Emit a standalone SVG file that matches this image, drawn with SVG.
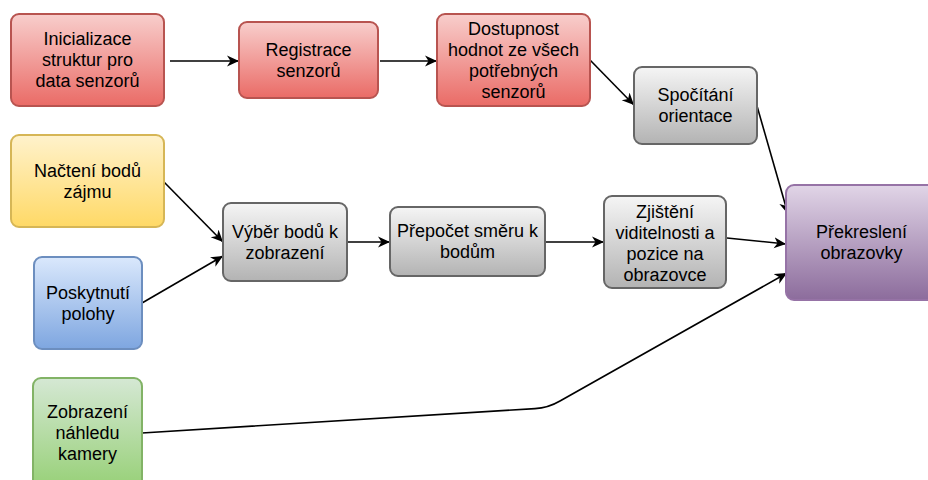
<svg xmlns="http://www.w3.org/2000/svg" width="928" height="480" viewBox="0 0 928 480">
  <defs>
    <linearGradient id="gRed" x1="0" y1="0" x2="0" y2="1">
      <stop offset="0" stop-color="#f8cecc"/>
      <stop offset="1" stop-color="#ea6b66"/>
    </linearGradient>
    <linearGradient id="gGray" x1="0" y1="0" x2="0" y2="1">
      <stop offset="0" stop-color="#f5f5f5"/>
      <stop offset="1" stop-color="#b3b3b3"/>
    </linearGradient>
    <linearGradient id="gYellow" x1="0" y1="0" x2="0" y2="1">
      <stop offset="0" stop-color="#fff2cc"/>
      <stop offset="1" stop-color="#ffd966"/>
    </linearGradient>
    <linearGradient id="gBlue" x1="0" y1="0" x2="0" y2="1">
      <stop offset="0" stop-color="#dae8fc"/>
      <stop offset="1" stop-color="#7ea6e0"/>
    </linearGradient>
    <linearGradient id="gGreen" x1="0" y1="0" x2="0" y2="1">
      <stop offset="0" stop-color="#d5e8d4"/>
      <stop offset="1" stop-color="#97d077"/>
    </linearGradient>
    <linearGradient id="gPurple" x1="0" y1="0" x2="0" y2="1">
      <stop offset="0" stop-color="#e1d5e7"/>
      <stop offset="1" stop-color="#8c6c9c"/>
    </linearGradient>
    <marker id="arrow" viewBox="0 0 12 12" refX="12" refY="6" markerWidth="12" markerHeight="12" markerUnits="userSpaceOnUse" orient="auto">
      <path d="M0,0.5 L12,6 L0,11.5 L3.5,6 Z" fill="#000"/>
    </marker>
  </defs>
  <style>
    .box { stroke-width: 2; }
    .red { fill: url(#gRed); stroke: #b85450; }
    .gray { fill: url(#gGray); stroke: #666666; }
    .yellow { fill: url(#gYellow); stroke: #d6b656; }
    .blue { fill: url(#gBlue); stroke: #6c8ebf; }
    .green { fill: url(#gGreen); stroke: #82b366; }
    .purple { fill: url(#gPurple); stroke: #9673a6; }
    text { font-family: "Liberation Sans", Arial, Helvetica, sans-serif; font-size: 18px; fill: #000; text-anchor: middle; }
    .edge { fill: none; stroke: #000; stroke-width: 1.6; marker-end: url(#arrow); }
  </style>

  <g id="connectors">
    <path class="edge" d="M170 61 L239 61"/>
    <path class="edge" d="M380 61 L437 61"/>
    <path class="edge" d="M590 60 L634 105"/>
    <path class="edge" d="M757 106 L788 214"/>
    <path class="edge" d="M164 182 L223 242"/>
    <path class="edge" d="M142 303 L223 256"/>
    <path class="edge" d="M347 242 L390 242"/>
    <path class="edge" d="M545 242 L604 242"/>
    <path class="edge" d="M727 238 L786 244"/>
    <path class="edge" d="M142 433 L535 408.6 Q548 408 560 401 L787 273"/>
  </g>

  <g id="init">
    <rect class="box red" x="11" y="14" width="153" height="92" rx="8"/>
    <text x="87.5" y="45">Inicializace</text>
    <text x="87.5" y="66">struktur pro</text>
    <text x="87.5" y="87">data senzorů</text>
  </g>

  <g id="registrace">
    <rect class="box red" x="239" y="22" width="139" height="76" rx="8"/>
    <text x="308.5" y="55.5">Registrace</text>
    <text x="308.5" y="76.5">senzorů</text>
  </g>

  <g id="dostupnost">
    <rect class="box red" x="437" y="14" width="153" height="92" rx="8"/>
    <text x="513.5" y="34.5">Dostupnost</text>
    <text x="513.5" y="55.5">hodnot ze všech</text>
    <text x="513.5" y="76.5">potřebných</text>
    <text x="513.5" y="97.5">senzorů</text>
  </g>

  <g id="orientace">
    <rect class="box gray" x="634" y="67" width="123" height="77" rx="8"/>
    <text x="695.5" y="101">Spočítání</text>
    <text x="695.5" y="122">orientace</text>
  </g>

  <g id="nacteni">
    <rect class="box yellow" x="11" y="135" width="153" height="92" rx="8"/>
    <text x="87.5" y="177">Načtení bodů</text>
    <text x="87.5" y="198">zájmu</text>
  </g>

  <g id="poloha">
    <rect class="box blue" x="34" y="257" width="108" height="92" rx="8"/>
    <text x="88" y="299">Poskytnutí</text>
    <text x="88" y="320">polohy</text>
  </g>

  <g id="vyber">
    <rect class="box gray" x="223" y="203" width="124" height="78" rx="8"/>
    <text x="285" y="238">Výběr bodů k</text>
    <text x="285" y="259">zobrazení</text>
  </g>

  <g id="prepocet">
    <rect class="box gray" x="390" y="207" width="155" height="69" rx="8"/>
    <text x="467.5" y="237">Přepočet směru k</text>
    <text x="467.5" y="258">bodům</text>
  </g>

  <g id="viditelnost">
    <rect class="box gray" x="604" y="196" width="122" height="92" rx="8"/>
    <text x="665" y="217.5">Zjištění</text>
    <text x="665" y="238.5">viditelnosti a</text>
    <text x="665" y="259.5">pozice na</text>
    <text x="665" y="280.5">obrazovce</text>
  </g>

  <g id="prekresleni">
    <rect class="box purple" x="786" y="185" width="151" height="115" rx="8"/>
    <text x="861.5" y="238">Překreslení</text>
    <text x="861.5" y="259">obrazovky</text>
  </g>

  <g id="kamera">
    <rect class="box green" x="33" y="378" width="109" height="110" rx="8"/>
    <text x="87.5" y="418">Zobrazení</text>
    <text x="87.5" y="439">náhledu</text>
    <text x="87.5" y="460">kamery</text>
  </g>
</svg>
